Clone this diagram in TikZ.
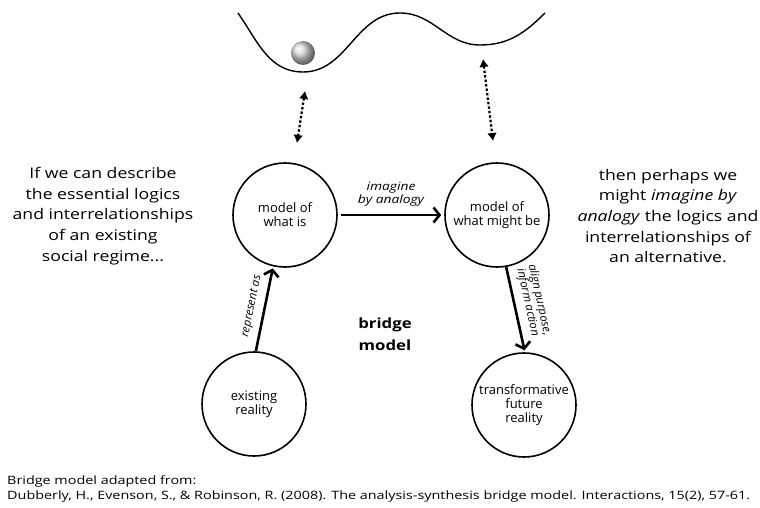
\documentclass[tikz,border=0pt]{standalone}
\usepackage{fontspec}
\setmainfont{Open Sans}
\newfontfamily\widefont{Open Sans}[FakeStretch=1.2]
\newfontfamily\footfont{Open Sans}[FakeStretch=1.25]
\usetikzlibrary{arrows.meta}
\begin{document}
\begin{tikzpicture}[x=1pt, y=1pt,
	stage/.style={draw, circle, line width=1.6pt, minimum size=104pt, inner sep=0pt, align=center, font=\fontsize{13}{14}\selectfont},
	link/.style={line width=2.6pt, -{Straight Barb[length=6pt, width=15pt, line width=2.6pt]}},
	hint/.style={line width=2.2pt, dash pattern=on 2.5pt off 2pt, {Latex[length=8pt, width=10pt]}-{Latex[length=8pt, width=10pt]}},
	blurb/.style={align=center, font=\widefont\fontsize{14.7}{20.7}\selectfont},
	tag/.style={align=center, font=\widefont\itshape\fontsize{11.5}{13}\selectfont},
	sidetag/.style={align=center, font=\itshape\fontsize{11.5}{12}\selectfont}]
	\useasboundingbox (0,0) rectangle (760,507);
	% landscape with the ball
	\draw[line width=1.4pt] (238,494) to[out=-55, in=180] (303,435) to[out=0, in=180] (400,494)
		to[out=0, in=180] (480,462) to[out=0, in=-135] (545,494);
	\shade[ball color=gray!30] (303,454) circle (12);
	\coordinate (wellA) at (305,416);
	\coordinate (wellB) at (483,448);
	% the four stages
	\node[stage] (whatis) at (285,292) {model of\\what is};
	\node[stage] (mightbe) at (497,292) {model of\\what might be};
	\node[stage] (existing) at (254,103) {existing\\reality};
	\node[stage] (future) at (524,102) {transformative\\future\\reality};
	\draw[hint] (wellA) -- (297,364);
	\draw[hint] (wellB) -- (493,366);
	\draw[link, shorten <=3pt, shorten >=3pt] (whatis) -- (mightbe) node [midway, above=4pt, tag] {imagine\\by analogy};
	\draw[link, shorten >=2pt] (existing.88) -- (whatis.257) node [midway, above=3pt, sloped, sidetag] {represent as};
	\draw[link, shorten >=2pt] (mightbe.280) -- (future.89) node [pos=0.45, above=3pt, sloped, sidetag] {align purpose,\\inform action};
	\node[align=center, font=\widefont\bfseries\fontsize{14}{22}\selectfont] (bridge) at (385,173) {bridge\\model};
	% side texts
	\node[blurb] (left) at (103,291) {If we can describe\\the essential logics\\and interrelationships\\of an existing\\social regime...};
	\node[blurb] (right) at (668,291) {then perhaps we\\might \textit{imagine by}\\\textit{analogy} the logics and\\interrelationships of\\an alternative.};
	\node[anchor=south west, align=left, inner sep=0pt, font=\footfont\fontsize{11.5}{14.5}\selectfont] (source) at (7,5)
		{Bridge model adapted from:\\Dubberly, H., Evenson, S., \& Robinson, R. (2008). The analysis-synthesis bridge model. Interactions, 15(2), 57-61.};
\end{tikzpicture}
\end{document}
